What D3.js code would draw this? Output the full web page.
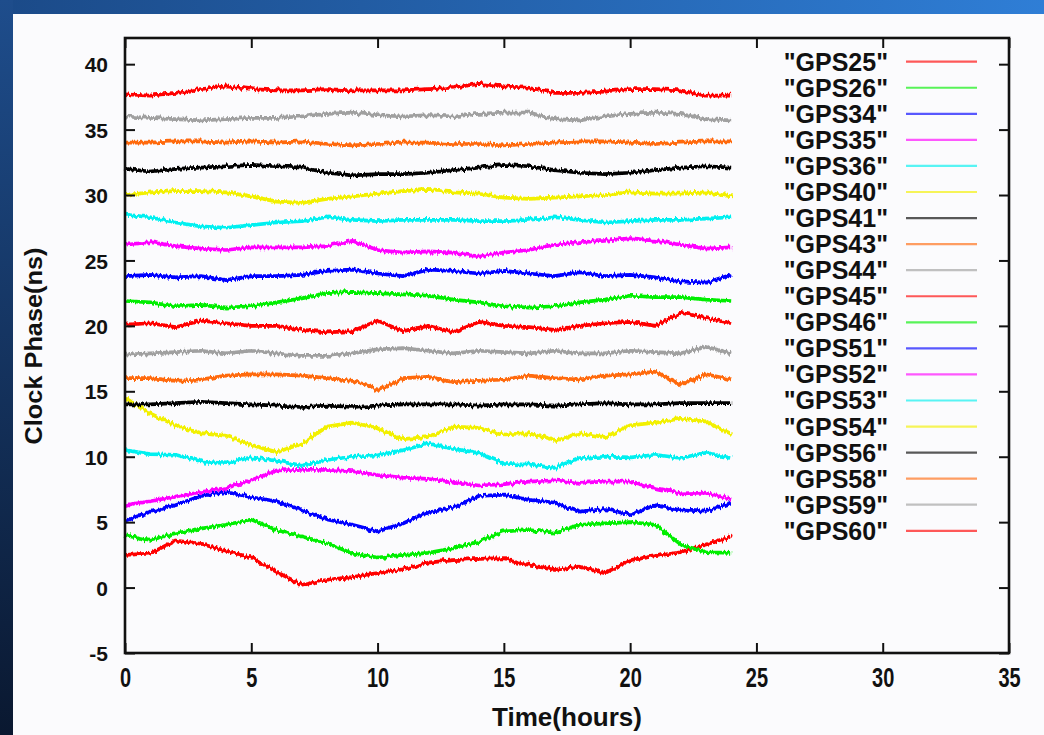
<!DOCTYPE html>
<html>
<head>
<meta charset="utf-8">
<script src="https://cdn.jsdelivr.net/npm/d3@7"></script>
<style>
  html, body { margin: 0; padding: 0; background: #fff; }
  svg { display: block; }
  text { font-family: "Liberation Sans", Arial, sans-serif; fill: #111; }
</style>
</head>
<body>
<svg id="chart" width="1044" height="735"></svg>
<script>
'use strict';

// sampling times (hours)
const hours = [0, 1, 2, 3, 4, 5, 6, 7, 8, 9, 10, 11, 12, 13, 14, 15, 16, 17, 18, 19, 20, 21, 22, 23, 24];

// clock phase (ns)
const gps25 = [2.5, 2.6, 3.6, 3.35, 2.8, 2.3, 1.2, 0.2, 0.6, 0.8, 1.1, 1.4, 1.9, 2.1, 2.2, 2.25, 1.75, 1.35, 1.6, 1.1, 2.1, 2.4, 2.7, 3.3, 3.9];
const gps26 = [4.0, 3.65, 4.15, 4.5, 4.8, 5.2, 4.4, 3.9, 3.4, 2.6, 2.3, 2.5, 2.65, 3.0, 3.5, 4.3, 4.4, 4.2, 4.8, 4.9, 5.0, 4.8, 3.3, 2.7, 2.65];
const gps34 = [5.1, 5.8, 6.3, 7.0, 7.3, 6.9, 6.6, 5.9, 5.2, 4.8, 4.3, 4.9, 5.75, 6.1, 7.0, 7.1, 6.7, 6.5, 5.8, 6.0, 5.6, 6.3, 5.9, 5.8, 6.5];
const gps35 = [6.3, 6.6, 6.95, 7.3, 7.6, 8.2, 8.95, 9.0, 9.0, 8.9, 8.6, 8.4, 8.3, 8.1, 7.8, 7.9, 8.1, 8.2, 8.0, 8.1, 8.1, 7.6, 7.2, 7.25, 6.75];
const gps36 = [10.5, 10.2, 10.15, 9.65, 9.5, 9.95, 9.7, 9.3, 9.75, 10.0, 10.1, 10.5, 11.0, 10.6, 10.3, 9.45, 9.4, 9.15, 9.9, 10.0, 9.95, 10.15, 9.9, 10.3, 9.9];
const gps40 = [14.5, 13.3, 12.4, 11.8, 11.6, 10.9, 10.35, 11.0, 12.3, 12.6, 12.2, 11.35, 11.5, 12.3, 12.2, 11.7, 11.8, 11.2, 11.8, 11.5, 12.4, 12.6, 12.9, 12.7, 11.7];
const gps41 = [14.0, 14.0, 14.1, 14.2, 14.1, 14.0, 13.9, 13.8, 13.9, 13.8, 13.9, 14.0, 14.0, 14.0, 13.9, 14.0, 14.0, 13.9, 14.0, 14.1, 14.0, 14.0, 14.1, 14.1, 14.1];
const gps43 = [16.0, 16.0, 15.8, 15.9, 16.2, 16.3, 16.3, 16.2, 16.0, 15.8, 15.1, 16.0, 16.1, 15.7, 15.8, 15.9, 16.2, 16.0, 15.9, 16.2, 16.3, 16.5, 15.5, 16.3, 15.9];
const gps44 = [17.8, 17.9, 18.0, 18.1, 17.9, 18.1, 17.9, 17.7, 17.7, 17.9, 18.2, 18.3, 18.1, 17.9, 18.1, 18.0, 17.9, 18.1, 17.9, 17.9, 18.1, 18.0, 17.9, 18.4, 17.9];
const gps45 = [20.1, 20.2, 19.9, 20.4, 20.2, 20.0, 20.0, 19.7, 19.5, 19.6, 20.4, 19.6, 20.0, 19.5, 20.3, 20.0, 19.9, 19.7, 20.0, 20.2, 20.3, 20.0, 21.0, 20.6, 20.2];
const gps46 = [21.9, 21.8, 21.5, 21.6, 21.4, 21.5, 21.8, 22.1, 22.5, 22.6, 22.5, 22.4, 22.3, 22.0, 21.8, 21.5, 21.4, 21.5, 21.8, 22.0, 22.3, 22.2, 22.2, 22.0, 21.9];
const gps51 = [23.8, 23.9, 23.7, 23.8, 23.5, 23.8, 23.8, 23.9, 24.2, 24.3, 24.0, 23.8, 24.3, 24.2, 24.0, 24.2, 24.0, 23.8, 24.1, 23.8, 23.9, 23.7, 23.4, 23.3, 23.9];
const gps52 = [26.2, 26.4, 26.1, 25.9, 25.8, 26.0, 26.0, 26.0, 26.1, 26.5, 25.8, 25.6, 25.7, 25.6, 25.3, 25.6, 25.8, 26.2, 26.4, 26.5, 26.7, 26.5, 26.2, 25.9, 26.0];
const gps53 = [28.5, 28.3, 27.9, 27.6, 27.5, 27.7, 27.9, 28.0, 28.3, 28.1, 28.0, 28.1, 28.1, 28.1, 28.0, 28.0, 28.1, 28.3, 28.1, 27.9, 28.0, 28.1, 28.1, 28.2, 28.3];
const gps54 = [30.0, 30.2, 30.3, 30.3, 30.2, 29.9, 29.5, 29.4, 29.7, 29.9, 30.1, 30.3, 30.4, 30.2, 30.1, 29.8, 29.7, 29.8, 29.9, 30.0, 30.2, 30.1, 30.1, 30.2, 29.9];
const gps56 = [32.0, 31.8, 32.0, 32.1, 32.2, 32.3, 32.2, 32.1, 31.7, 31.5, 31.6, 31.6, 31.7, 31.9, 32.1, 32.3, 32.2, 31.9, 31.7, 31.6, 31.7, 31.9, 32.1, 32.2, 32.1];
const gps58 = [34.0, 34.0, 34.1, 34.1, 34.0, 34.1, 34.0, 34.1, 33.9, 33.8, 33.9, 34.0, 34.0, 33.9, 33.9, 33.8, 33.9, 34.0, 34.1, 34.1, 34.0, 33.9, 34.0, 34.1, 34.1];
const gps59 = [36.0, 35.9, 35.8, 35.7, 35.8, 35.9, 35.9, 36.0, 36.2, 36.3, 36.1, 36.0, 36.1, 36.0, 36.2, 36.3, 36.3, 35.8, 35.7, 36.0, 36.2, 36.3, 36.2, 35.8, 35.7];
const gps60 = [37.7, 37.6, 37.8, 38.1, 38.3, 38.1, 38.0, 38.0, 38.1, 38.0, 38.0, 38.0, 38.1, 38.2, 38.5, 38.3, 38.2, 37.8, 37.8, 37.9, 38.1, 38.1, 38.0, 37.6, 37.6];

const names = ["GPS25", "GPS26", "GPS34", "GPS35", "GPS36", "GPS40", "GPS41", "GPS43", "GPS44",
  "GPS45", "GPS46", "GPS51", "GPS52", "GPS53", "GPS54", "GPS56", "GPS58", "GPS59", "GPS60"];
const values = [gps25, gps26, gps34, gps35, gps36, gps40, gps41, gps43, gps44,
  gps45, gps46, gps51, gps52, gps53, gps54, gps56, gps58, gps59, gps60];

const xTicks = [0, 5, 10, 15, 20, 25, 30, 35];
const yTicks = [-5, 0, 5, 10, 15, 20, 25, 30, 35, 40];

// gnuplot's default line type cycle
const palette = ["#ff0000", "#00ee00", "#0000ff", "#ff00ff", "#00f0f0", "#f2f000", "#000000", "#ff6a10", "#a0a0a0"];

const svg = d3.select("#chart");
const width = 1044;
const height = 735;
const plot = {left: 125, right: 1009, top: 38, bottom: 653};

const x = d3.scaleLinear().domain([0, 35]).range([plot.left, plot.right]);
const y = d3.scaleLinear().domain([-5, 42]).range([plot.bottom, plot.top]);

// slide background
const defs = svg.append("defs");
const topGrad = defs.append("linearGradient").attr("id", "topbar");
topGrad.append("stop").attr("offset", "0%").attr("stop-color", "#1b4a88");
topGrad.append("stop").attr("offset", "100%").attr("stop-color", "#2f7ed6");
const sideGrad = defs.append("linearGradient").attr("id", "sidebar")
  .attr("x1", 0).attr("x2", 0).attr("y1", 0).attr("y2", 1);
sideGrad.append("stop").attr("offset", "0%").attr("stop-color", "#1e4d8c");
sideGrad.append("stop").attr("offset", "100%").attr("stop-color", "#0a1830");

// jitter + soft edge so the thick traces look like densely sampled data
const rough = defs.append("filter").attr("id", "rough")
  .attr("x", "-2%").attr("y", "-20%").attr("width", "104%").attr("height", "140%");
rough.append("feTurbulence").attr("type", "fractalNoise")
  .attr("baseFrequency", "0.5 0.04").attr("numOctaves", 2).attr("seed", 3).attr("result", "noise");
rough.append("feDisplacementMap").attr("in", "SourceGraphic").attr("in2", "noise")
  .attr("scale", 6).attr("xChannelSelector", "R").attr("yChannelSelector", "G").attr("result", "moved");
rough.append("feGaussianBlur").attr("in", "moved").attr("stdDeviation", 0.45);

svg.append("rect").attr("width", width).attr("height", height).attr("fill", "#fbfbfd");
svg.append("rect").attr("width", width).attr("height", 14).attr("fill", "url(#topbar)");
svg.append("rect").attr("width", 13).attr("height", height).attr("fill", "url(#sidebar)");

// series
const line = d3.line()
  .x((d, i) => x(hours[i]))
  .y(d => y(d));

svg.append("g")
  .attr("filter", "url(#rough)")
  .selectAll("path")
  .data(values)
  .join("path")
    .attr("d", line)
    .attr("fill", "none")
    .attr("stroke", (d, i) => palette[i % palette.length])
    .attr("stroke-width", 3.7)
    .attr("stroke-linejoin", "round");

// axes, ticks pointing inward on all four sides
function styleAxis(g) {
  g.select(".domain").remove();
  g.selectAll(".tick line").attr("stroke", "#111").attr("stroke-width", 2);
}

svg.append("g")
  .attr("transform", `translate(${plot.left},0)`)
  .call(d3.axisLeft(y).tickValues(yTicks).tickSize(-10).tickPadding(17).tickFormat(d => String(d)))
  .call(styleAxis)
  .call(g => g.selectAll("text")
    .attr("font-size", 21).attr("font-weight", "bold").attr("dy", "0.36em"));

svg.append("g")
  .attr("transform", `translate(${plot.right},0)`)
  .call(d3.axisRight(y).tickValues(yTicks).tickSize(-10).tickFormat(""))
  .call(styleAxis);

// bottom labels are tall and narrow in the original
svg.append("g")
  .attr("transform", `translate(0,${plot.bottom})`)
  .call(d3.axisBottom(x).tickValues(xTicks).tickSize(-10).tickPadding(0))
  .call(styleAxis)
  .call(g => g.selectAll("text")
    .attr("y", 0).attr("dy", 0)
    .attr("transform", "translate(0,34) scale(0.8,1.08)")
    .attr("font-size", 25).attr("font-weight", "bold"));

svg.append("g")
  .attr("transform", `translate(0,${plot.top})`)
  .call(d3.axisTop(x).tickValues(xTicks).tickSize(-10).tickFormat(""))
  .call(styleAxis);

svg.append("rect")
  .attr("x", plot.left).attr("y", plot.top)
  .attr("width", plot.right - plot.left).attr("height", plot.bottom - plot.top)
  .attr("fill", "none").attr("stroke", "#111").attr("stroke-width", 2.6);

// axis titles
svg.append("text")
  .attr("transform", "translate(42,346) rotate(-90)")
  .attr("text-anchor", "middle")
  .attr("font-size", 23).attr("font-weight", "bold")
  .attr("textLength", 197).attr("lengthAdjust", "spacingAndGlyphs")
  .text("Clock Phase(ns)");

svg.append("text")
  .attr("x", (plot.left + plot.right) / 2).attr("y", 726)
  .attr("text-anchor", "middle")
  .attr("font-size", 25).attr("font-weight", "bold")
  .attr("textLength", 150).attr("lengthAdjust", "spacingAndGlyphs")
  .text("Time(hours)");

// legend
const legendTop = 61.7;
const legendStep = 26.06;
const legend = svg.append("g")
  .selectAll("g")
  .data(names)
  .join("g")
    .attr("transform", (d, i) => `translate(0,${legendTop + i * legendStep})`);

legend.append("text")
  .attr("x", 888).attr("dy", "0.36em")
  .attr("text-anchor", "end")
  .attr("font-size", 25).attr("font-weight", "bold")
  .text(d => `"${d}"`);

legend.append("line")
  .attr("x1", 906).attr("x2", 977)
  .attr("stroke", (d, i) => palette[i % palette.length])
  .attr("stroke-opacity", 0.65)
  .attr("stroke-width", 2.2);
</script>
</body>
</html>
